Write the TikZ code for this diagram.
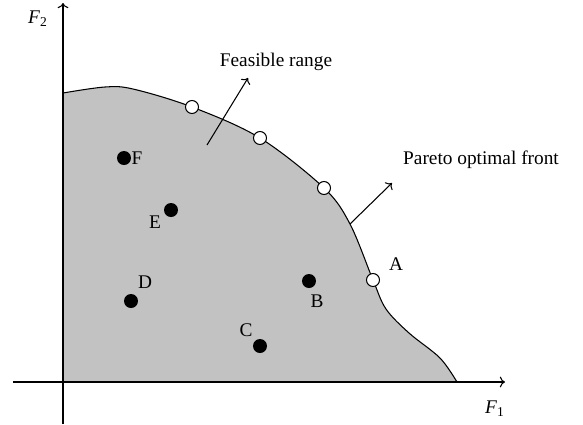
\documentclass[tikz,border=0pt]{standalone}
\usepackage{fontspec}
\setmainfont{Liberation Serif}
\usetikzlibrary{arrows.meta, positioning}

\tikzset{
	pareto/.style={circle, draw, fill=white, line width=0.6pt, minimum size=0.26cm, inner sep=0pt},
	sol/.style={circle, fill=black, minimum size=0.28cm, inner sep=0pt},
	lbl/.style={inner sep=1pt, font=\fontsize{11}{13}\selectfont}
}

\begin{document}
\begin{tikzpicture}[x=0.02cm, y=-0.02cm, line width=0.6pt]
		\useasboundingbox (0,0) rectangle (583,424);
		
		% Regione ammissibile
		\fill[gray!48] (63,382) -- 
			plot[smooth, tension=0.55] coordinates {(63,93) (105,87) (133,89) (192,107) (260,138) (324,188) (350,224) (373,280) (386,309) (409,333) (440,358) (457,382)}
			-- cycle;
		\draw plot[smooth, tension=0.55] coordinates {(63,93) (105,87) (133,89) (192,107) (260,138) (324,188) (350,224) (373,280) (386,309) (409,333) (440,358) (457,382)};
		
		% Assi
		\coordinate (F1_start) at (13,382);
		\coordinate (F1_end)   at (505,382);
		\coordinate (F2_start) at (63,424);
		\coordinate (F2_end)   at (63,3);
		\draw[->] (F1_start) -- (F1_end);
		\draw[->] (F2_start) -- (F2_end);
		\node[lbl] (F1_lbl) at (495,409) {\textit{F}\textsubscript{1}};
		\node[lbl] (F2_lbl) at (38,19) {\textit{F}\textsubscript{2}};
		
		% Punti del fronte di Pareto
		\node[pareto] (P1) at (192,107) {};
		\node[pareto] (P2) at (260,138) {};
		\node[pareto] (P3) at (324,188) {};
		\node[pareto] (PA) at (373,280) {};
		\node[lbl] (A_lbl) at (396,264) {A};
		
		% Soluzioni interne
		\node[sol] (SB) at (309,281) {};
		\node[sol] (SC) at (260,346) {};
		\node[sol] (SD) at (131,301) {};
		\node[sol] (SE) at (171,210) {};
		\node[sol] (SF) at (124,158) {};
		\node[lbl] (B_lbl) at (317,301) {B};
		\node[lbl] (C_lbl) at (246,330) {C};
		\node[lbl] (D_lbl) at (145,282) {D};
		\node[lbl] (E_lbl) at (155,222) {E};
		\node[lbl] (F_lbl) at (137,158) {F};
		
		% Etichette con frecce
		\node[lbl] (feas_lbl) at (276,62) {Feasible range};
		\coordinate (feas_from) at (207,145);
		\coordinate (feas_to)   at (248,78);
		\draw[->] (feas_from) -- (feas_to);
		
		\node[lbl] (front_lbl) at (481,160) {Pareto optimal front};
		\coordinate (front_from) at (350,224);
		\coordinate (front_to)   at (392,183);
		\draw[->] (front_from) -- (front_to);
		
	\end{tikzpicture}
\end{document}
